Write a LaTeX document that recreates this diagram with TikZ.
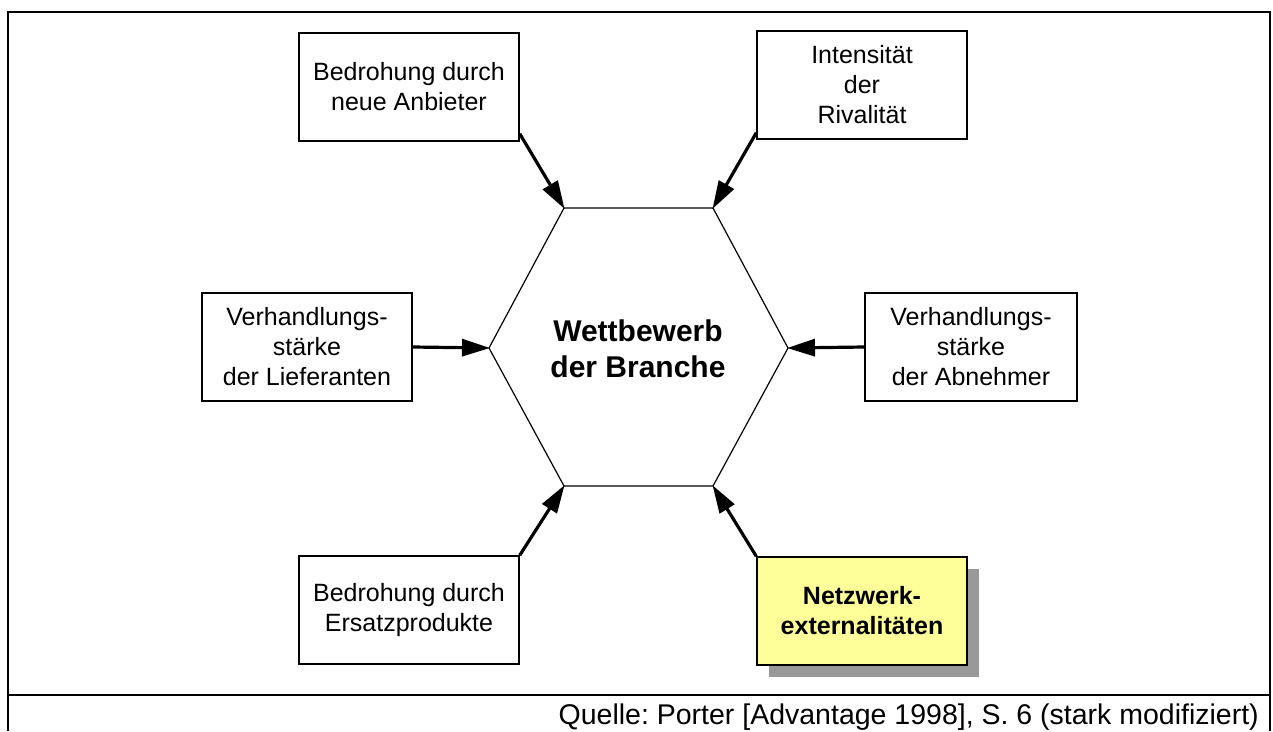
\documentclass[tikz,border=0pt]{standalone}
\usepackage{fontspec}
\setmainfont{Liberation Sans}
\usetikzlibrary{arrows.meta,shadows}
\definecolor{boxyellow}{HTML}{FFFF99}
\definecolor{shadowgray}{HTML}{999999}
\frenchspacing
\begin{document}
\begin{tikzpicture}[x=1pt,y=-1pt,
  forcebox/.style={draw=black,line width=1.5pt,align=center,inner sep=0pt,
    font=\fontsize{25}{30}\selectfont,minimum height=108pt},
  forcearrow/.style={line width=3.2pt,-{Triangle[length=28pt,width=17pt]},shorten >=-1pt},
  frameline/.style={line width=2pt,draw=black}]
\useasboundingbox (0,0) rectangle (1273,731);
% frame
\draw[frameline] (8,731) -- (8,12) -- (1270,12) -- (1270,731);
\draw[frameline] (8,695) -- (1270,695);
\node[anchor=base east,font=\fontsize{28.5}{34}\selectfont,inner sep=0pt] (src) at (1259,724)
  {Quelle: Porter [Advantage 1998], S. 6 (stark modifiziert)};
% hexagon
\coordinate (htl) at (564,208);
\coordinate (htr) at (713,208);
\coordinate (hr) at (788,348);
\coordinate (hbr) at (713,486);
\coordinate (hbl) at (564,486);
\coordinate (hl) at (489,348);
\draw[line width=1.2pt,line join=miter] (htl) -- (htr) -- (hr) -- (hbr) -- (hbl) -- (hl) -- cycle;
\node[align=center,font=\fontsize{30}{36}\selectfont\bfseries] (center) at (638,349)
  {Wettbewerb\\der Branche};
% boxes
\node[forcebox,minimum width=220pt] (tl) at (409,87) {Bedrohung durch\\neue Anbieter};
\node[forcebox,minimum width=210pt] (tr) at (862,85) {Intensität\\der\\Rivalität};
\node[forcebox,minimum width=210pt] (ml) at (307,347) {Verhandlungs-\\stärke\\der Lieferanten};
\node[forcebox,minimum width=212pt] (mr) at (971,347) {Verhandlungs-\\stärke\\der Abnehmer};
\node[forcebox,minimum width=220pt] (bl) at (409,610) {Bedrohung durch\\Ersatzprodukte};
\node[forcebox,minimum width=210pt,fill=boxyellow,font=\fontsize{25}{30}\selectfont\bfseries,
  drop shadow={shadow xshift=12pt,shadow yshift=-12pt,fill=shadowgray,opacity=1}] (br) at (862,611)
  {Netzwerk-\\externalitäten};
% arrows
\draw[forcearrow] ([yshift=8pt]tl.south east) -- (htl);
\draw[forcearrow] ([yshift=7pt]tr.south west) -- (htr);
\draw[forcearrow] (ml.east) -- (hl);
\draw[forcearrow] (mr.west) -- (hr);
\draw[forcearrow] (bl.north east) -- (hbl);
\draw[forcearrow] (br.north west) -- (hbr);
\end{tikzpicture}
\end{document}
